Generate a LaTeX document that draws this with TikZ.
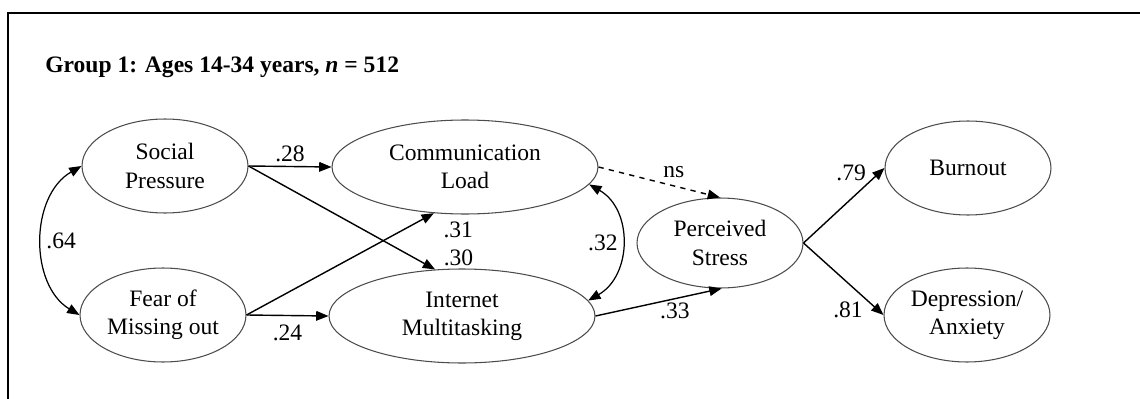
\documentclass[tikz,border=0pt]{standalone}
\usepackage{fontspec}
\setmainfont{Liberation Serif}
\usetikzlibrary{shapes.geometric,arrows.meta}

\tikzset{
  latent/.style={draw=black!70, line width=0.6pt, ellipse, align=center, inner sep=0pt,
    minimum width=3.32cm, minimum height=1.88cm, font=\fontsize{13.4}{16}\selectfont},
  widelatent/.style={latent, minimum width=5.32cm},
  arr/.style={-{Triangle[length=7pt,width=5.5pt]}, line width=0.8pt},
  dblarr/.style={{Triangle[length=7pt,width=5.5pt]}-{Triangle[length=7pt,width=5.5pt]}, line width=0.7pt},
  coef/.style={font=\fontsize{13.4}{16}\selectfont, inner sep=2pt}
}

\begin{document}
\begin{tikzpicture}[x=0.02cm, y=-0.02cm]
    \useasboundingbox (0,0) rectangle (1140,399);
    \draw[line width=1.3pt] (8,399) -- (8,13) -- (1140,13);

    \node[anchor=base west, inner sep=0pt, font=\fontsize{13.4}{16}\selectfont\bfseries] (title) at (45,72)
        {Group 1: Ages 14-34 years, \textit{n} = 512};

\node[latent] (sp) at (165,166) {Social\\Pressure};
\node[latent] (fomo) at (163,315) {Fear of\\Missing out};
\node[widelatent] (cl) at (465,167) {Communication\\Load};
\node[widelatent] (im) at (462,316) {Internet\\Multitasking};
\node[latent, minimum height=1.8cm] (ps) at (720,243) {Perceived\\Stress};
\node[latent] (burn) at (968,168) {Burnout};
\node[latent] (dep) at (967,315) {Depression/\\Anxiety};

% predictors
\draw[arr] (sp.east) --node[coef, above]{.28} (cl.west);
\draw[arr] (sp.east) -- (im.120) node[coef, inner sep=0pt, anchor=base west, xshift=0.16cm, yshift=0.08cm]{.30};
\draw[arr] (fomo.east) -- (cl.236) node[coef, inner sep=0pt, anchor=base west, xshift=0.18cm, yshift=-0.48cm]{.31};
\draw[arr] (fomo.east) --node[coef, below=3pt]{.24} (im.west);

% covariances
\draw[dblarr] (sp.west) .. controls +(-52,30) and +(-50,-30) .. (fomo.west) node[coef, pos=0.5, right]{.64};
\draw[dblarr] (cl.-8) .. controls +(44,25) and +(44,-25) .. (im.7) node[coef, pos=0.5, left]{.32};

% mediator and outcomes
\draw[arr, dashed] (cl.east) --node[coef, pos=0.62, above=2pt]{ns} (ps.north);
\draw[arr] (im.east) --node[coef, pos=0.63, below]{.33} (ps.-88);
\draw[arr] (ps.east) --node[coef, pos=0.93, left=5pt]{.79} (burn.west);
\draw[arr] (ps.east) --node[coef, pos=0.925, left=6pt]{.81} (dep.west);

\end{tikzpicture}
\end{document}
